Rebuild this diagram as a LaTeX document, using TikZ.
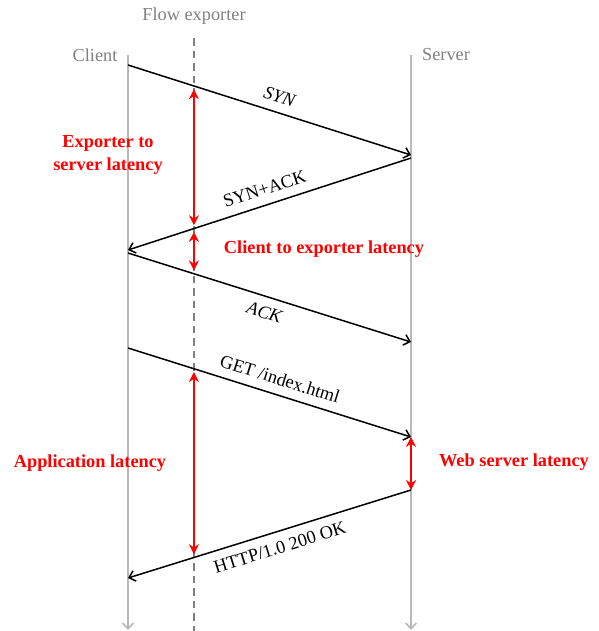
\documentclass[tikz,border=0pt]{standalone}
\usepackage{fontspec}
\setmainfont{Liberation Serif}
\usetikzlibrary{arrows.meta, positioning, calc}

\begin{document}
\begin{tikzpicture}[
    x=0.6pt, y=-0.6pt,
    font=\fontsize{11}{13}\selectfont,
    actor/.style={text=gray},
    lifeline/.style={draw=gray!55, line width=1pt, -{Straight Barb[length=3.5pt, width=6.5pt]}},
    msg/.style={-{Straight Barb[length=3.5pt, width=6.5pt]}, line width=0.9pt},
    latency/.style={{Stealth[length=6pt, width=6pt, inset=2pt]}-{Stealth[length=6pt, width=6pt, inset=2pt]}, draw=red, line width=0.9pt, shorten >=2pt, shorten <=2pt},
    lbl/.style={text=red, font=\fontsize{11}{14}\selectfont\bfseries, align=center}
]
\useasboundingbox (0,0) rectangle (599,631);

% lifelines
\node[actor] (client) at (95,55) {Client};
\node[actor] (server) at (446,55) {Server};
\node[actor] (exporter) at (194,16) {Flow exporter};

\coordinate (c-top) at (128,55);
\coordinate (c-bot) at (128,630);
\coordinate (s-top) at (411,55);
\coordinate (s-bot) at (411,630);
\coordinate (e-top) at (194,38);
\coordinate (e-bot) at (194,631);

\draw[lifeline] (c-top) -- (c-bot);
\draw[lifeline] (s-top) -- (s-bot);
\draw[gray, line width=1pt, dash pattern=on 4.5pt off 3pt] (e-top) -- (e-bot);

% messages
\coordinate (syn-s) at (128,65);
\coordinate (syn-e) at (411,155);
\coordinate (sa-s) at (411,158);
\coordinate (sa-e) at (128,250);
\coordinate (ack-s) at (128,253);
\coordinate (ack-e) at (411,342);
\coordinate (get-s) at (128,348);
\coordinate (get-e) at (411,437);
\coordinate (ok-s) at (411,490);
\coordinate (ok-e) at (128,578);

\draw[msg] (syn-s) -- node[sloped, above=2pt, pos=0.52] {\textit{SYN}} (syn-e);
\draw[msg] (sa-s) -- node[sloped, above=2pt, pos=0.5] {SYN+ACK} (sa-e);
\draw[msg] (ack-s) -- node[sloped, below=2pt, pos=0.5] {\textit{ACK}} (ack-e);
\draw[msg] (get-s) -- node[sloped, above=2pt, pos=0.52] {GET /index.html} (get-e);
\draw[msg] (ok-s) -- node[sloped, below=2pt, pos=0.48] {HTTP/1.0 200 OK} (ok-e);

% crossing points on the exporter
\coordinate (x-syn) at ($(syn-s)!0.233!(syn-e)$);
\coordinate (x-sa) at ($(sa-s)!0.767!(sa-e)$);
\coordinate (x-ack) at ($(ack-s)!0.233!(ack-e)$);
\coordinate (x-get) at ($(get-s)!0.233!(get-e)$);
\coordinate (x-ok) at ($(ok-s)!0.767!(ok-e)$);

% latencies
\draw[latency] (x-syn) -- (x-sa);
\draw[latency] (x-sa) -- (x-ack);
\draw[latency] (x-get) -- (x-ok);
\draw[latency, shorten >=0pt, shorten <=0pt] (get-e) -- (ok-s);

\node[lbl] (exp-srv) at (108,155) {Exporter to\\server latency};
\node[lbl] (cli-exp) at (324,249) {Client to exporter latency};
\node[lbl] (app) at (90,463) {Application latency};
\node[lbl] (web) at (514,462) {Web server latency};

\end{tikzpicture}
\end{document}
